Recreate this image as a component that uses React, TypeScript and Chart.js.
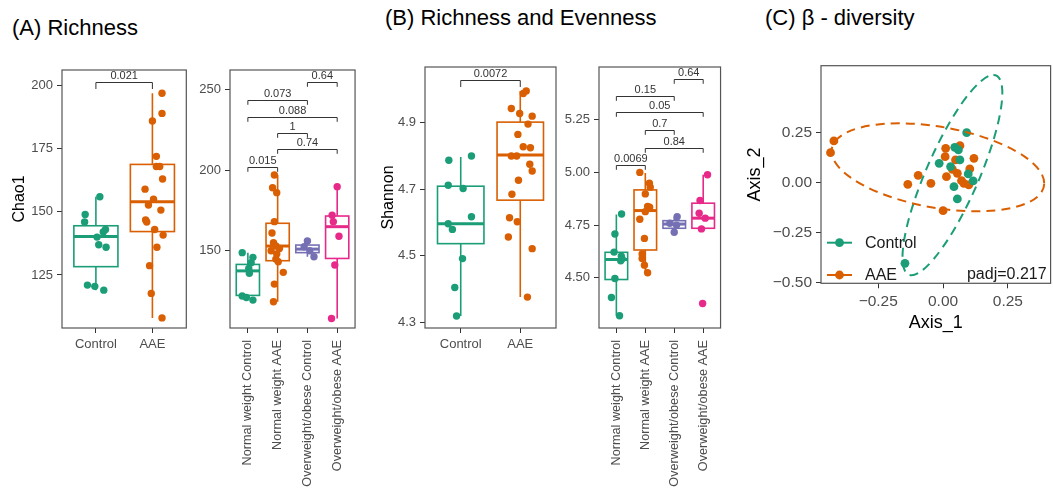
import React, { useEffect, useRef } from "react";
import { Chart, registerables } from "chart.js";

Chart.register(...registerables);

const FONT = "'Liberation Sans', Arial, Helvetica, sans-serif";
Chart.defaults.font.family = FONT;
const TICK_COLOR = "#4d4d4d";
const LINE_DARK = "#333333";

// ---------- categories & colours ----------
const twoGroups = ["Control", "AAE"];
const fourGroups = [
  "Normal weight Control",
  "Normal weight AAE",
  "Overweight/obese Control",
  "Overweight/obese AAE",
];
const twoColors = ["#1B9E77", "#D95F02"];
const fourColors = ["#1B9E77", "#D95F02", "#7570B3", "#E7298A"];

// ---------- (A) Chao1, Control vs AAE ----------
const chaoControl = [156, 149, 146, 143, 142, 140, 137, 136, 121, 120.5, 119];
const chaoControlJitter = [0.07, -0.19, -0.2, 0.17, 0.13, 0.02, 0.05, 0.18, -0.15, -0.02, 0.14];
const chaoAae = [197, 189, 186, 172, 168, 168, 163, 159, 155, 152.7, 150.7, 146.8, 146, 143, 140.8, 136, 128.7, 117.7, 108];
const chaoAaeJitter = [0.17, 0.17, 0, 0.07, 0.07, 0.13, 0.18, -0.13, 0.02, -0.07, 0.15, -0.12, -0.1, 0.04, 0.19, 0.08, -0.05, -0.02, 0.17];
// box stats: lower whisker, Q1, median, Q3, upper whisker
const chaoStats2 = [
  [119, 128.3, 140.2, 144.5, 156],
  [108, 142.2, 154, 168.8, 197],
];
const chaoTicks2 = [125, 150, 175, 200];
const chaoTickLabels2 = ["125", "150", "175", "200"];
const chaoBracketFrom2 = [1];
const chaoBracketTo2 = [2];
const chaoBracketY2 = [201.6];
const chaoBracketLabel2 = ["0.021"];

// ---------- (A) Chao1, four BMI groups ----------
const chaoNwControl = [148.8, 145.9, 142.6, 139, 136, 121.9, 121, 119.4];
const chaoNwControlJitter = [-0.19, 0.17, 0.11, 0.03, 0.05, -0.19, -0.05, 0.17];
const chaoNwAae = [196.9, 189, 186, 168, 161, 155, 152.9, 151.4, 150, 148, 144.8, 143.2, 136.6, 129.3, 118.4];
const chaoNwAaeJitter = [-0.11, -0.17, -0.03, -0.11, -0.19, -0.14, -0.06, 0.06, -0.22, -0.03, -0.06, 0.02, 0.19, -0.11, -0.14];
const chaoOwControl = [156, 152.5, 150, 146.3];
const chaoOwControlJitter = [0, -0.11, 0.08, 0.22];
const chaoOwAae = [189.7, 172, 168, 159, 141.1, 108];
const chaoOwAaeJitter = [0, -0.17, -0.13, 0.06, -0.08, -0.19];
const chaoStats4 = [
  [119.4, 122.3, 137.5, 141.5, 148.8],
  [118.4, 143.8, 152.9, 167, 196.9],
  [146.3, 148.8, 151, 153.5, 156],
  [108, 145.2, 164.9, 171.5, 189.7],
];
const chaoTicks4 = [150, 200, 250];
const chaoTickLabels4 = ["150", "200", "250"];
const chaoBracketFrom4 = [3, 1, 1, 2, 2, 1];
const chaoBracketTo4 = [4, 3, 4, 3, 4, 2];
const chaoBracketY4 = [254.8, 243.4, 232.6, 223.1, 212.8, 201.7];
const chaoBracketLabel4 = ["0.64", "0.073", "0.088", "1", "0.74", "0.015"];

// ---------- (B) Shannon, Control vs AAE ----------
const shanControl = [4.787, 4.8, 4.712, 4.702, 4.617, 4.596, 4.579, 4.491, 4.404, 4.318];
const shanControlJitter = [-0.2, 0.18, -0.21, 0.04, 0.18, -0.21, -0.14, 0.03, -0.1, -0.07];
const shanAae = [4.996, 4.988, 4.943, 4.928, 4.92, 4.896, 4.865, 4.828, 4.825, 4.8, 4.8, 4.775, 4.755, 4.727, 4.685, 4.614, 4.602, 4.556, 4.521, 4.375];
const shanAaeJitter = [0.1, 0.05, -0.15, -0.01, 0.2, 0.13, -0.04, 0.05, 0.17, -0.15, -0.06, 0.16, 0.2, -0.03, -0.14, -0.18, -0.05, -0.2, 0.2, 0.12];
const shanStats2 = [
  [4.318, 4.536, 4.596, 4.709, 4.797],
  [4.375, 4.667, 4.803, 4.902, 4.996],
];
const shanTicks2 = [4.3, 4.5, 4.7, 4.9];
const shanTickLabels2 = ["4.3", "4.5", "4.7", "4.9"];
const shanBracketFrom2 = [1];
const shanBracketTo2 = [2];
const shanBracketY2 = [5.03];
const shanBracketLabel2 = ["0.0072"];

// ---------- (B) Shannon, four BMI groups ----------
const shanNwControl = [4.803, 4.708, 4.622, 4.603, 4.59, 4.581, 4.497, 4.407, 4.32];
const shanNwControlJitter = [0.18, -0.05, -0.08, 0.17, 0.2, 0.15, -0.05, -0.17, 0.11];
const shanNwAae = [5.0, 4.949, 4.93, 4.898, 4.838, 4.835, 4.814, 4.778, 4.687, 4.613, 4.592, 4.56, 4.524];
const shanNwAaeJitter = [-0.19, 0.14, 0.17, 0, 0.08, 0.15, 0, -0.19, -0.03, -0.11, -0.11, -0.03, 0.08];
const shanOwControl = [4.79, 4.759, 4.75, 4.716];
const shanOwControlJitter = [0.1, -0.15, 0.08, 0];
const shanOwAae = [4.989, 4.867, 4.806, 4.783, 4.732, 4.378];
const shanOwAaeJitter = [0.15, -0.11, -0.14, 0.07, -0.06, -0.02];
const shanStats4 = [
  [4.32, 4.492, 4.587, 4.621, 4.8],
  [4.524, 4.632, 4.819, 4.917, 4.997],
  [4.72, 4.735, 4.755, 4.771, 4.79],
  [4.732, 4.735, 4.783, 4.854, 4.989],
];
const shanTicks4 = [4.5, 4.75, 5.0, 5.25];
const shanTickLabels4 = ["4.50", "4.75", "5.00", "5.25"];
const shanBracketFrom4 = [3, 1, 1, 2, 2, 1];
const shanBracketTo4 = [4, 3, 4, 3, 4, 2];
const shanBracketY4 = [5.443, 5.364, 5.285, 5.202, 5.118, 5.036];
const shanBracketLabel4 = ["0.64", "0.15", "0.05", "0.7", "0.84", "0.0069"];

// ---------- (C) beta diversity (PCoA) ----------
const pcoaGroups = ["Control", "AAE"];
const pcoaControlX = [0.091, 0.045, 0.059, -0.015, 0.029, 0.065, 0.097, 0.116, 0.042, 0.055, -0.147];
const pcoaControlY = [0.248, 0.175, 0.162, 0.095, 0.078, 0.112, 0.042, 0.007, -0.022, -0.083, -0.405];
const pcoaAaeX = [-0.421, -0.434, 0.01, 0.065, 0.008, 0.048, 0.119, 0.103, 0.013, 0.055, 0.036, -0.096, -0.136, -0.047, 0.071, 0.08, 0.099, 0.0];
const pcoaAaeY = [0.207, 0.148, 0.17, 0.183, 0.128, 0.112, 0.12, 0.067, 0.028, 0.045, 0.065, 0.035, -0.01, -0.005, 0.008, -0.005, -0.013, -0.142];
// ellipse: point = centre + U*cos(t) + V*sin(t)
const ellipseCenterX = [0.036, -0.02];
const ellipseCenterY = [0.036, 0.075];
const ellipseUX = [0.158, 0.41];
const ellipseUY = [0.501, -0.08];
const ellipseVX = [0.11, 0];
const ellipseVY = [0, 0.205];
const pcoaXTicks = [-0.25, 0, 0.25];
const pcoaXTickLabels = ["\u22120.25", "0.00", "0.25"];
const pcoaYTicks = [-0.5, -0.25, 0, 0.25];
const pcoaYTickLabels = ["\u22120.50", "\u22120.25", "0.00", "0.25"];
const pcoaStatLabel = "padj=0.217";

type BoxPanel = {
  id: string;
  left: number;
  top: number;
  width: number;
  height: number;
  plotTop: number;
  plotBottom: number;
  yAxisWidth: number;
  padRight: number;
  categories: string[];
  colors: string[];
  stats: number[][];
  values: number[][];
  jitter: number[][];
  yMin: number;
  yMax: number;
  yTicks: number[];
  yTickLabels: string[];
  yTitle?: string;
  yTitlePad?: number;
  bFrom: number[];
  bTo: number[];
  bY: number[];
  bLabel: string[];
  tip: number;
  rotated: boolean;
};

const panels: BoxPanel[] = [
  {
    id: "a1", left: 0, top: 40, width: 190, height: 451, plotTop: 70, plotBottom: 328,
    yAxisWidth: 62, padRight: 3, categories: twoGroups, colors: twoColors, stats: chaoStats2,
    values: [chaoControl, chaoAae], jitter: [chaoControlJitter, chaoAaeJitter],
    yMin: 104, yMax: 206.2, yTicks: chaoTicks2, yTickLabels: chaoTickLabels2,
    yTitle: "Chao1", yTitlePad: 10, bFrom: chaoBracketFrom2, bTo: chaoBracketTo2,
    bY: chaoBracketY2, bLabel: chaoBracketLabel2, tip: 6.5, rotated: false,
  },
  {
    id: "a2", left: 190, top: 40, width: 170, height: 451, plotTop: 70, plotBottom: 328,
    yAxisWidth: 40, padRight: 4, categories: fourGroups, colors: fourColors, stats: chaoStats4,
    values: [chaoNwControl, chaoNwAae, chaoOwControl, chaoOwAae],
    jitter: [chaoNwControlJitter, chaoNwAaeJitter, chaoOwControlJitter, chaoOwAaeJitter],
    yMin: 102.1, yMax: 262, yTicks: chaoTicks4, yTickLabels: chaoTickLabels4,
    bFrom: chaoBracketFrom4, bTo: chaoBracketTo4, bY: chaoBracketY4, bLabel: chaoBracketLabel4,
    tip: 4.3, rotated: true,
  },
  {
    id: "b1", left: 370, top: 40, width: 190, height: 451, plotTop: 67, plotBottom: 328,
    yAxisWidth: 55, padRight: 4, categories: twoGroups, colors: twoColors, stats: shanStats2,
    values: [shanControl, shanAae], jitter: [shanControlJitter, shanAaeJitter],
    yMin: 4.282, yMax: 5.068, yTicks: shanTicks2, yTickLabels: shanTickLabels2,
    yTitle: "Shannon", yTitlePad: 9, bFrom: shanBracketFrom2, bTo: shanBracketTo2,
    bY: shanBracketY2, bLabel: shanBracketLabel2, tip: 6.5, rotated: false,
  },
  {
    id: "b2", left: 562, top: 40, width: 164, height: 451, plotTop: 67, plotBottom: 328,
    yAxisWidth: 37, padRight: 4, categories: fourGroups, colors: fourColors, stats: shanStats4,
    values: [shanNwControl, shanNwAae, shanOwControl, shanOwAae],
    jitter: [shanNwControlJitter, shanNwAaeJitter, shanOwControlJitter, shanOwAaeJitter],
    yMin: 4.262, yMax: 5.5, yTicks: shanTicks4, yTickLabels: shanTickLabels4,
    bFrom: shanBracketFrom4, bTo: shanBracketTo4, bY: shanBracketY4, bLabel: shanBracketLabel4,
    tip: 4.3, rotated: true,
  },
];

function drawBorder(chart: any) {
  const { ctx, chartArea } = chart;
  ctx.save();
  ctx.strokeStyle = "#555555";
  ctx.lineWidth = 1.2;
  ctx.strokeRect(chartArea.left, chartArea.top, chartArea.right - chartArea.left, chartArea.bottom - chartArea.top);
  ctx.restore();
}

function makeBoxPlugin(p: BoxPanel) {
  const boxWidth = 0.78;
  return {
    id: "boxes_" + p.id,
    beforeDatasetsDraw(chart: any) {
      const { ctx } = chart;
      const xs = chart.scales.x;
      const ys = chart.scales.y;
      ctx.save();
      p.stats.forEach((st, i) => {
        const xc = xs.getPixelForValue(i + 1);
        const half = xs.getPixelForValue(i + 1 + boxWidth / 2) - xc;
        const [lo, q1, med, q3, hi] = st.map((v) => ys.getPixelForValue(v));
        ctx.strokeStyle = p.colors[i];
        ctx.lineWidth = 1.6;
        ctx.beginPath();
        ctx.moveTo(xc, hi);
        ctx.lineTo(xc, q3);
        ctx.moveTo(xc, q1);
        ctx.lineTo(xc, lo);
        ctx.stroke();
        ctx.fillStyle = "#ffffff";
        ctx.fillRect(xc - half, q3, 2 * half, q1 - q3);
        ctx.strokeRect(xc - half, q3, 2 * half, q1 - q3);
        ctx.lineWidth = 3;
        ctx.beginPath();
        ctx.moveTo(xc - half, med);
        ctx.lineTo(xc + half, med);
        ctx.stroke();
      });
      ctx.restore();
    },
    afterDatasetsDraw(chart: any) {
      const { ctx } = chart;
      const xs = chart.scales.x;
      const ys = chart.scales.y;
      ctx.save();
      ctx.strokeStyle = LINE_DARK;
      ctx.fillStyle = LINE_DARK;
      ctx.lineWidth = 1;
      ctx.font = "11px " + FONT;
      ctx.textAlign = "center";
      ctx.textBaseline = "bottom";
      p.bY.forEach((yv, i) => {
        const y = Math.round(ys.getPixelForValue(yv)) + 0.5;
        const x1 = xs.getPixelForValue(p.bFrom[i]);
        const x2 = xs.getPixelForValue(p.bTo[i]);
        ctx.beginPath();
        ctx.moveTo(x1, y + p.tip);
        ctx.lineTo(x1, y);
        ctx.lineTo(x2, y);
        ctx.lineTo(x2, y + p.tip);
        ctx.stroke();
        ctx.fillText(p.bLabel[i], (x1 + x2) / 2, y - 1);
      });
      ctx.restore();
      drawBorder(chart);
    },
  };
}

function BoxChart({ p }: { p: BoxPanel }) {
  const ref = useRef<HTMLCanvasElement>(null);
  useEffect(() => {
    if (!ref.current) return;
    const datasets = p.values.map((vals, gi) => ({
      label: p.categories[gi],
      data: vals.map((v, k) => ({ x: gi + 1 + p.jitter[gi][k], y: v })),
      backgroundColor: p.colors[gi],
      borderWidth: 0,
      pointRadius: 3.7,
      pointHoverRadius: 3.7,
    }));
    const xAxisHeight = p.top + p.height - p.plotBottom;
    const chart = new Chart(ref.current, {
      type: "scatter",
      data: { datasets },
      plugins: [makeBoxPlugin(p)],
      options: {
        animation: false,
        responsive: false,
        events: [],
        layout: { padding: { top: p.plotTop - p.top, right: p.padRight, left: 0, bottom: 0 } },
        plugins: { legend: { display: false }, tooltip: { enabled: false } },
        scales: {
          x: {
            type: "linear",
            min: 0.4,
            max: p.categories.length + 0.6,
            afterBuildTicks: (s: any) => {
              s.ticks = p.categories.map((_, i) => ({ value: i + 1 }));
            },
            afterFit: (s: any) => {
              s.height = xAxisHeight;
            },
            grid: { display: true, drawOnChartArea: false, drawTicks: true, tickLength: 5, color: LINE_DARK },
            border: { display: false },
            ticks: {
              autoSkip: false,
              minRotation: p.rotated ? 90 : 0,
              maxRotation: p.rotated ? 90 : 0,
              padding: p.rotated ? 7 : 4,
              color: TICK_COLOR,
              font: { size: p.rotated ? 12.7 : 13 },
              callback: (_v: any, i: number) => p.categories[i],
            },
          },
          y: {
            type: "linear",
            min: p.yMin,
            max: p.yMax,
            afterBuildTicks: (s: any) => {
              s.ticks = p.yTicks.map((v) => ({ value: v }));
            },
            afterFit: (s: any) => {
              s.width = p.yAxisWidth;
            },
            grid: { display: true, drawOnChartArea: false, drawTicks: true, tickLength: 5, color: LINE_DARK },
            border: { display: false },
            ticks: {
              padding: 4,
              color: TICK_COLOR,
              font: { size: 13 },
              callback: (_v: any, i: number) => p.yTickLabels[i],
            },
            title: {
              display: !!p.yTitle,
              text: p.yTitle || "",
              color: "#000000",
              font: { size: 16 },
              padding: { top: p.yTitlePad || 0, bottom: 0 },
            },
          },
        },
      },
    } as any);
    return () => chart.destroy();
  }, [p]);
  return (
    <canvas
      ref={ref}
      width={p.width}
      height={p.height}
      style={{ position: "absolute", left: p.left, top: p.top, width: p.width, height: p.height }}
    />
  );
}

const pcoaPanel = { left: 740, top: 40, width: 315, height: 300, plotTop: 65.7, plotBottom: 283.3, yAxisWidth: 81, padRight: 3 };

function PcoaChart() {
  const ref = useRef<HTMLCanvasElement>(null);
  useEffect(() => {
    if (!ref.current) return;
    const colors = twoColors;
    const xsArr = [pcoaControlX, pcoaAaeX];
    const ysArr = [pcoaControlY, pcoaAaeY];
    const datasets = pcoaGroups.map((g, gi) => ({
      label: g,
      data: xsArr[gi].map((x, k) => ({ x, y: ysArr[gi][k] })),
      backgroundColor: colors[gi],
      borderWidth: 0,
      pointRadius: 4.4,
      pointHoverRadius: 4.4,
    }));
    const plugin = {
      id: "pcoaExtras",
      afterDatasetsDraw(chart: any) {
        const { ctx, chartArea } = chart;
        const xs = chart.scales.x;
        const ys = chart.scales.y;
        const sx = xs.getPixelForValue(1) - xs.getPixelForValue(0);
        const sy = ys.getPixelForValue(0) - ys.getPixelForValue(1);
        // ellipses
        pcoaGroups.forEach((_, gi) => {
          ctx.save();
          ctx.beginPath();
          ctx.save();
          ctx.translate(xs.getPixelForValue(ellipseCenterX[gi]), ys.getPixelForValue(ellipseCenterY[gi]));
          ctx.transform(sx * ellipseUX[gi], -sy * ellipseUY[gi], sx * ellipseVX[gi], -sy * ellipseVY[gi], 0, 0);
          ctx.arc(0, 0, 1, 0, Math.PI * 2);
          ctx.restore();
          ctx.setLineDash([9, 6]);
          ctx.lineWidth = 2;
          ctx.strokeStyle = colors[gi];
          ctx.stroke();
          ctx.restore();
        });
        // legend
        ctx.save();
        const keyY = [chartArea.bottom - 40.6, chartArea.bottom - 8.3];
        pcoaGroups.forEach((g, gi) => {
          const y = keyY[gi];
          ctx.strokeStyle = colors[gi];
          ctx.lineWidth = 2;
          ctx.beginPath();
          ctx.moveTo(chartArea.left + 6, y);
          ctx.lineTo(chartArea.left + 31, y);
          ctx.stroke();
          ctx.fillStyle = colors[gi];
          ctx.beginPath();
          ctx.arc(chartArea.left + 18.5, y, 4.4, 0, Math.PI * 2);
          ctx.fill();
          ctx.fillStyle = "#1a1a1a";
          ctx.font = "16px " + FONT;
          ctx.textAlign = "left";
          ctx.textBaseline = "middle";
          ctx.fillText(g, chartArea.left + 44, y + 0.5);
        });
        ctx.textAlign = "right";
        ctx.fillText(pcoaStatLabel, chartArea.right - 4, chartArea.bottom - 8.3);
        ctx.restore();
        drawBorder(chart);
      },
    };
    const p = pcoaPanel;
    const chart = new Chart(ref.current, {
      type: "scatter",
      data: { datasets },
      plugins: [plugin],
      options: {
        animation: false,
        responsive: false,
        events: [],
        layout: { padding: { top: p.plotTop - p.top, right: p.padRight, left: 0, bottom: 0 } },
        plugins: { legend: { display: false }, tooltip: { enabled: false } },
        scales: {
          x: {
            type: "linear",
            min: -0.4707,
            max: 0.4146,
            afterBuildTicks: (s: any) => {
              s.ticks = pcoaXTicks.map((v) => ({ value: v }));
            },
            afterFit: (s: any) => {
              s.height = p.top + p.height - p.plotBottom;
            },
            grid: { display: true, drawOnChartArea: false, drawTicks: true, tickLength: 5, color: LINE_DARK },
            border: { display: false },
            ticks: {
              autoSkip: false,
              maxRotation: 0,
              padding: 4,
              color: TICK_COLOR,
              font: { size: 15.5 },
              callback: (_v: any, i: number) => pcoaXTickLabels[i],
            },
            title: { display: true, text: "Axis_1", color: "#000000", font: { size: 18 }, padding: { top: 0, bottom: 6 } },
          },
          y: {
            type: "linear",
            min: -0.505,
            max: 0.583,
            afterBuildTicks: (s: any) => {
              s.ticks = pcoaYTicks.map((v) => ({ value: v }));
            },
            afterFit: (s: any) => {
              s.width = p.yAxisWidth;
            },
            grid: { display: true, drawOnChartArea: false, drawTicks: true, tickLength: 5, color: LINE_DARK },
            border: { display: false },
            ticks: {
              padding: 4,
              color: TICK_COLOR,
              font: { size: 15.5 },
              callback: (_v: any, i: number) => pcoaYTickLabels[i],
            },
            title: { display: true, text: "Axis_2", color: "#000000", font: { size: 18 }, padding: { top: 4, bottom: 0 } },
          },
        },
      },
    } as any);
    return () => chart.destroy();
  }, []);
  const p = pcoaPanel;
  return (
    <canvas
      ref={ref}
      width={p.width}
      height={p.height}
      style={{ position: "absolute", left: p.left, top: p.top, width: p.width, height: p.height }}
    />
  );
}

const titleStyle: React.CSSProperties = {
  position: "absolute",
  fontFamily: FONT,
  fontSize: 22,
  lineHeight: "24px",
  color: "#000",
  whiteSpace: "nowrap",
};

export default function App() {
  return (
    <div
      style={{
        position: "absolute",
        left: 0,
        top: 0,
        width: 1053,
        height: 491,
        overflow: "hidden",
        background: "#ffffff",
      }}
    >
      <div style={{ ...titleStyle, left: 12, top: 16 }}>(A) Richness</div>
      <div style={{ ...titleStyle, left: 385, top: 6 }}>(B) Richness and Evenness</div>
      <div style={{ ...titleStyle, left: 765, top: 6 }}>(C) β - diversity</div>
      {panels.map((p) => (
        <BoxChart key={p.id} p={p} />
      ))}
      <PcoaChart />
    </div>
  );
}
